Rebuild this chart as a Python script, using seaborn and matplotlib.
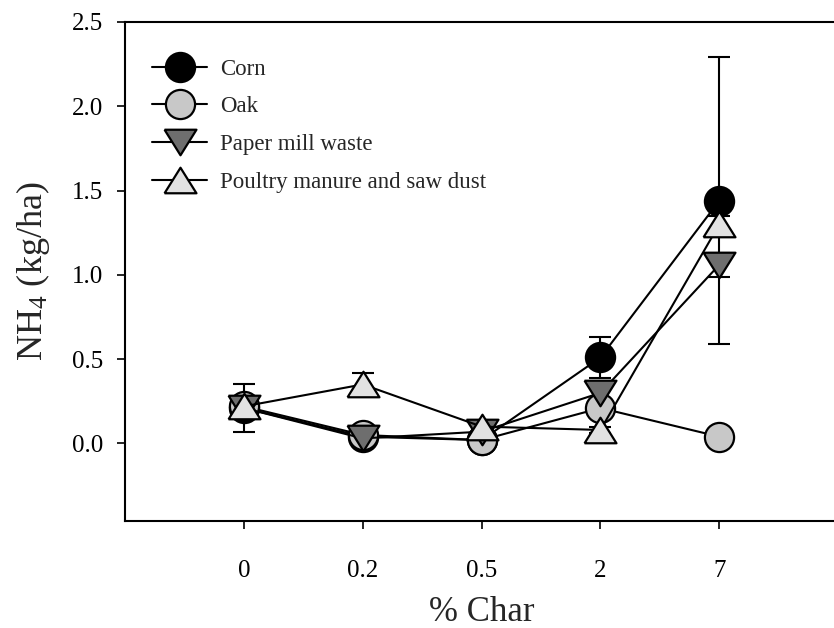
import numpy as np
import pandas as pd
import matplotlib
matplotlib.use("Agg")
import matplotlib.pyplot as plt
import seaborn as sns

# ---- data ----
categories = ["0", "0.2", "0.5", "2", "7"]
corn = [0.21, 0.04, 0.02, 0.51, 1.44]
corn_err = [0.14, 0.02, 0.01, 0.12, 0.85]
oak = [0.22, 0.05, 0.02, 0.21, 0.04]
oak_err = [0.03, 0.01, 0.01, 0.05, 0.01]
paper = [0.21, 0.03, 0.07, 0.30, 1.06]
paper_err = [0.03, 0.01, 0.01, 0.05, 0.07]
poultry = [0.22, 0.35, 0.10, 0.08, 1.30]
poultry_err = [0.03, 0.07, 0.02, 0.02, 0.05]
series_names = ["Corn", "Oak", "Paper mill waste", "Poultry manure and saw dust"]
yticks = [0.0, 0.5, 1.0, 1.5, 2.0, 2.5]

sns.set_style("ticks")
plt.rcParams["font.family"] = ["Liberation Serif", "DejaVu Serif"]
plt.rcParams["mathtext.fontset"] = "custom"
plt.rcParams["mathtext.rm"] = "Liberation Serif"
plt.rcParams["mathtext.it"] = "Liberation Serif:italic"

fig = plt.figure(figsize=(8.34, 6.28), dpi=100)
ax = fig.add_axes([0.150, 0.1704, 0.855, 0.7946])

up_tri = [(-1, -0.8), (1, -0.8), (0, 0.8), (-1, -0.8)]
down_tri = [(-1, 0.8), (1, 0.8), (0, -0.8), (-1, 0.8)]

styles = [
    (corn, corn_err, "o", "#000000", 21),
    (oak, oak_err, "o", "#c8c8c8", 21),
    (paper, paper_err, down_tri, "#6e6e6e", 23),
    (poultry, poultry_err, up_tri, "#e2e2e2", 23),
]

for name, (vals, errs, mk, fc, ms) in zip(series_names, styles):
    df = pd.DataFrame({"x": categories, "y": vals})
    ax.errorbar(categories, vals, yerr=errs, fmt="none", ecolor="black",
                elinewidth=1.5, capsize=8, capthick=1.5, zorder=2)
    sns.lineplot(data=df, x="x", y="y", ax=ax, color="black", linewidth=1.5,
                 marker=mk, markersize=ms, markerfacecolor=fc,
                 markeredgecolor="black", markeredgewidth=1.6,
                 label=name, sort=False, zorder=3)

ax.set_xlim(-1, 5)
ax.set_ylim(-0.46, 2.5)
ax.set_yticks(yticks)
ax.set_yticklabels([f"{v:.1f}" for v in yticks])
ax.tick_params(axis="both", labelsize=18, direction="out", length=6, width=1.2,
               colors="black")
ax.tick_params(axis="y", pad=10)
ax.tick_params(axis="x", pad=22)
for s in ["left", "bottom", "top"]:
    ax.spines[s].set_linewidth(1.5)
    ax.spines[s].set_color("black")
ax.spines["right"].set_visible(False)

ax.set_xlabel("% Char", fontsize=25, labelpad=10)
ax.set_ylabel("NH$_4$ (kg/ha)", fontsize=26, labelpad=14)

leg = ax.legend(loc="upper left", frameon=False, fontsize=16.5, handlelength=2.39,
                labelspacing=0.72, handletextpad=0.57, borderpad=0,
                bbox_to_anchor=(0.0379, 0.926), borderaxespad=0)

fig.savefig("out.png", dpi=100)
